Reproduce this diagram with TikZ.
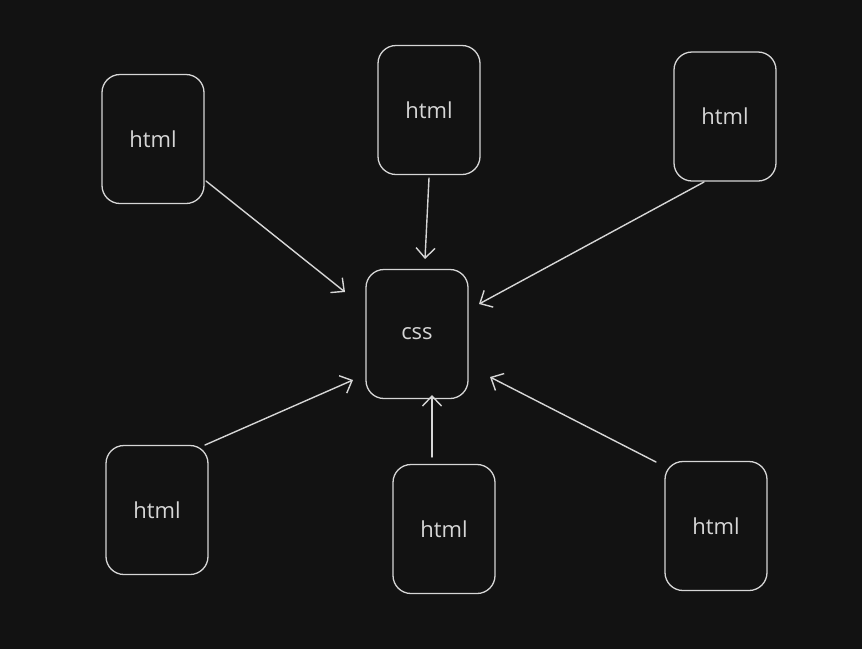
\documentclass[tikz,border=0pt]{standalone}
\usepackage{fontspec}
\setmainfont{Open Sans}
\usetikzlibrary{arrows.meta}
\definecolor{bg}{HTML}{121212}
\definecolor{ink}{HTML}{D6D6D6}
\tikzset{
  card/.style={draw=ink, line width=1.3pt, rounded corners=18pt, minimum width=102pt, minimum height=129pt, inner sep=0pt, text=ink, font=\fontsize{22}{26}\selectfont},
  link/.style={draw=ink, line width=1.4pt, line cap=round, -{Straight Barb[length=10pt,width=19pt,line width=1.4pt]}}
}
\begin{document}
\begin{tikzpicture}[x=1pt,y=-1pt]
\fill[bg] (0,0) rectangle (862,649);
\useasboundingbox (0,0) rectangle (862,649);
\node[card] (a) at (153,139) {html};
\node[card] (b) at (429,110) {html};
\node[card] (c) at (725,116.5) {html};
\node[card] (css) at (417,334) {css};
\node[card] (d) at (157,510) {html};
\node[card] (e) at (444,529) {html};
\node[card] (f) at (716,526) {html};
\coordinate (as) at (206,181); \coordinate (ae) at (345,292);
\coordinate (bs) at (429,178); \coordinate (be) at (425,259);
\coordinate (cs) at (704,182); \coordinate (ce) at (479,304);
\coordinate (ds) at (205,445); \coordinate (de) at (353,380);
\coordinate (es) at (432,457); \coordinate (ee) at (432,395);
\coordinate (fs) at (656,462); \coordinate (fe) at (490,377);
\draw[link] (as) -- (ae);
\draw[link] (bs) -- (be);
\draw[link] (cs) -- (ce);
\draw[link] (ds) -- (de);
\draw[link] (es) -- (ee);
\draw[link] (fs) -- (fe);
\end{tikzpicture}
\end{document}
